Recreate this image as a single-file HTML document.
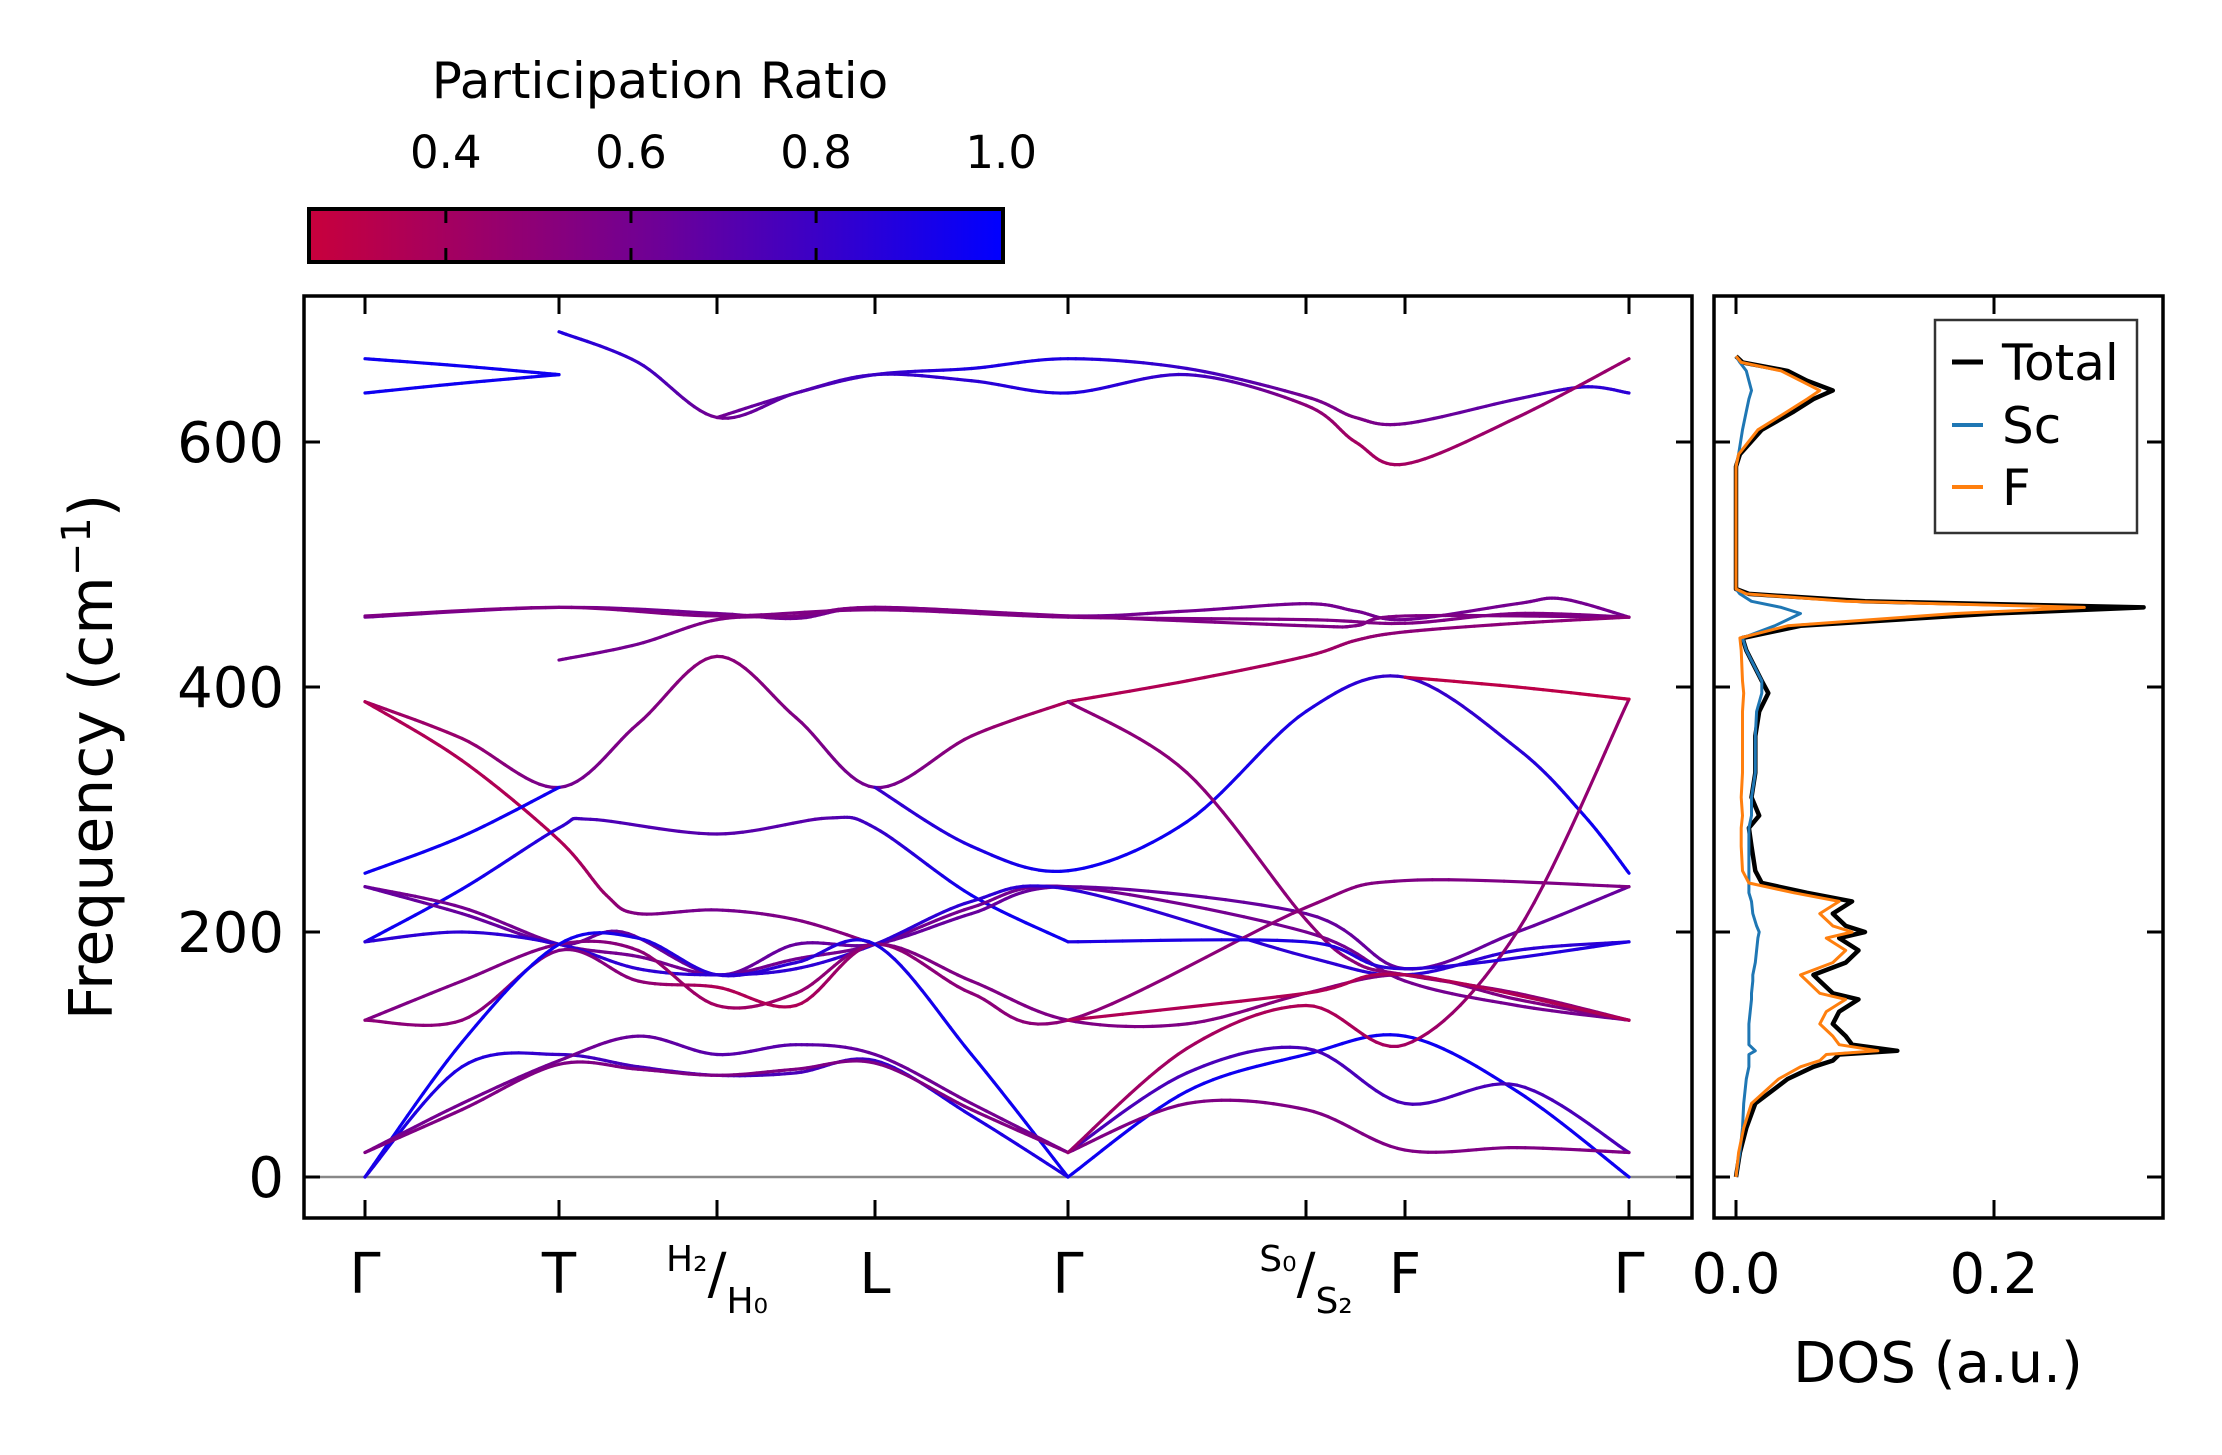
<!DOCTYPE html>
<html><head><meta charset="utf-8"><style>
html,body{margin:0;padding:0;background:#fff;}
svg{display:block;font-family:"DejaVu Sans","Liberation Sans",sans-serif;}
</style></head><body>
<svg id="fig" width="2222" height="1455" viewBox="0 0 2222 1455" xmlns="http://www.w3.org/2000/svg">
<defs>
<linearGradient id="cmap" x1="0" x2="1" y1="0" y2="0">
<stop offset="0" stop-color="#c8003c"/><stop offset="0.5" stop-color="#6e0096"/><stop offset="1" stop-color="#0000ff"/>
</linearGradient>
<clipPath id="mainclip"><rect x="304" y="296" width="1388" height="922"/></clipPath>
<clipPath id="dosclip"><rect x="1714" y="296" width="449" height="922"/></clipPath>
</defs>
<g id="colorbar">
<text x="660" y="98" font-size="50" text-anchor="middle">Participation Ratio</text>
<rect x="309" y="209" width="694" height="53" fill="url(#cmap)" stroke="#000" stroke-width="4"/>
</g>
<g id="main">
<line x1="304" x2="1692" y1="1177" y2="1177" stroke="#888" stroke-width="2.5"/>
<g id="bands" clip-path="url(#mainclip)"></g>
<rect x="304" y="296" width="1388" height="922" fill="none" stroke="#000" stroke-width="3.5"/>
<g id="mainticks"></g>
<text transform="translate(112,757) rotate(-90)" font-size="60" text-anchor="middle">Frequency (cm<tspan font-size="40" dy="-22">−1</tspan><tspan dy="22">)</tspan></text>
</g>
<g id="dos">
<g id="doslines" clip-path="url(#dosclip)"></g>
<rect x="1714" y="296" width="449" height="922" fill="none" stroke="#000" stroke-width="3.5"/>
<g id="dosticks"></g>
<text x="1938" y="1382" font-size="56" text-anchor="middle">DOS (a.u.)</text>
<g>
<rect x="1935" y="320" width="202" height="213" fill="#fff" stroke="#333" stroke-width="2.5"/>
<line x1="1952" x2="1983" y1="362" y2="362" stroke="#000" stroke-width="5"/>
<text x="2002" y="380" font-size="50">Total</text>
<line x1="1952" x2="1983" y1="425" y2="425" stroke="#1f77b4" stroke-width="4"/>
<text x="2002" y="443" font-size="50">Sc</text>
<line x1="1952" x2="1983" y1="487" y2="487" stroke="#ff7f0e" stroke-width="4"/>
<text x="2002" y="505" font-size="50">F</text>
</g>
</g>
</svg>
<script>
// ---- data ----
const kTickPos = [365, 559, 717, 875, 1068, 1306, 1405, 1629];
const kTickLabels = ["Γ", "T", "H", "L", "Γ", "S", "F", "Γ"];
const freqTicks = [0, 200, 400, 600];
const cbarTicks = [0.4, 0.6, 0.8, 1.0];
const dosTicks = [0.0, 0.2];

const bandK = [
 [0,0.5,1],
 [0,0.5,1],
 [1,1.5,2,2.5,3,3.5,4,4.5,5,5.5,6,6.5,6.8,7],
 [2,2.5,3,3.5,4,4.5,5,5.5,6,6.5,7],
 [0,1,2,2.5,3,4,4.5,5,5.5,6,6.5,6.7,7],
 [0,1,2,3,4,5,6,6.5,7],
 [1,1.5,2,2.5,3,4,5,5.5,6,7],
 [0,0.5,1,1.5,2,2.5,3,3.5,4],
 [4,4.5,5,5.5,6,6.5,7],
 [0,0.5,1,1.3,1.5,2,2.5,3],
 [0,0.5,1],
 [0,0.5,1,1.2,2,2.7,3,3.5,4],
 [3,3.5,4,4.5,5,6,6.5,6.8,7],
 [0,0.5,1,1.5,2,2.5,3,3.5,4,5,6,6.5,7],
 [0,0.5,1,1.4,2,2.5,3,3.5,4,5,6,6.5,7],
 [0,0.5,1,1.5,2,2.5,3,3.5,4,5,6,6.5,7],
 [0,0.5,1,1.5,2,2.5,3,3.5,4,4.5,5,6,6.5,7],
 [0,0.5,1,1.5,2,2.5,3,3.5,4,5,6,7],
 [0,0.5,1,1.5,2,2.5,3,3.5,4],
 [0,0.5,1,1.5,2,2.5,3,3.5,4],
 [0,0.5,1,1.5,2,2.5,3,3.5,4],
 [0,0.5,1,1.5,2,2.5,3,3.5,4],
 [4,4.5,5,6,6.5,7],
 [4,4.5,5,6,6.5,7],
 [4,4.5,5,6,6.5,7],
 [4,4.5,5,6,6.5,7],
 [4,4.5,5,5.5,6,6.5,7],
 [6,6.5,7],
 [4,5,6,7],
 [4,5,6,7]
];
const bandF = [
 [668,662,655],
 [640,648,655],
 [690,665,620,640,655,660,668,660,637,620,615,635,645,640],
 [620,640,655,650,640,655,630,600,582,620,668],
 [457,465,460,456,465,458,462,468,462,455,468,472,457],
 [458,465,458,463,457,455,452,460,457],
 [422,435,455,458,465,458,450,450,458,457],
 [388,358,318,370,425,375,318,360,388],
 [388,405,425,438,445,452,457],
 [388,340,275,230,215,218,210,190],
 [248,278,318],
 [192,235,285,292,280,293,285,230,192],
 [318,270,250,290,380,408,350,295,248],
 [237,220,190,180,165,178,190,220,237,200,160,140,128],
 [237,215,190,200,165,190,190,215,237,215,170,200,237],
 [192,200,190,170,165,170,190,225,235,180,165,185,192],
 [128,160,190,185,140,150,190,160,128,125,150,165,145,128],
 [128,128,185,160,155,140,190,150,128,220,242,237],
 [0,110,190,195,165,175,190,100,0],
 [0,90,100,90,83,85,95,50,0],
 [20,60,95,115,100,108,100,60,20],
 [20,55,92,88,83,88,93,55,20],
 [0,70,100,115,70,0],
 [20,85,105,60,75,20],
 [20,60,55,22,24,20],
 [20,105,140,108,200,390],
 [388,330,210,175,165,150,128],
 [408,400,390],
 [128,150,165,128],
 [192,192,170,192]
];
const bandP = [
 [0.95,0.95,0.95],[0.95,0.95,0.95],
 [0.9,0.8,0.6,0.7,0.8,0.9,0.9,0.8,0.6,0.55,0.6,0.7,0.85,0.85],
 [0.6,0.7,0.8,0.85,0.9,0.8,0.5,0.4,0.4,0.45,0.45],
 [0.6,0.6,0.6,0.6,0.6,0.6,0.6,0.6,0.6,0.6,0.6,0.6,0.6],
 [0.55,0.55,0.55,0.55,0.55,0.55,0.55,0.55,0.55],
 [0.6,0.6,0.55,0.55,0.55,0.55,0.55,0.55,0.55,0.55],
 [0.4,0.45,0.6,0.55,0.5,0.55,0.6,0.5,0.35],
 [0.35,0.35,0.4,0.45,0.5,0.5,0.5],
 [0.35,0.35,0.35,0.45,0.55,0.6,0.55,0.5],
 [0.95,0.95,0.95],
 [0.95,0.95,0.85,0.75,0.7,0.7,0.8,0.95,0.95],
 [0.8,0.9,0.95,0.95,0.9,0.8,0.85,0.95,0.95],
 [0.6,0.6,0.6,0.6,0.6,0.6,0.6,0.6,0.6,0.6,0.6,0.6,0.6],
 [0.65,0.65,0.65,0.65,0.65,0.65,0.65,0.65,0.65,0.65,0.65,0.65,0.65],
 [0.85,0.85,0.85,0.85,0.85,0.85,0.85,0.85,0.85,0.85,0.85,0.85,0.85],
 [0.55,0.55,0.55,0.5,0.4,0.45,0.55,0.55,0.55,0.55,0.5,0.55,0.55,0.55],
 [0.5,0.5,0.55,0.5,0.35,0.35,0.5,0.5,0.5,0.5,0.55,0.55],
 [0.95,0.95,0.95,0.9,0.85,0.85,0.9,0.95,0.95],
 [0.9,0.9,0.8,0.75,0.75,0.75,0.8,0.9,0.9],
 [0.6,0.6,0.6,0.65,0.7,0.7,0.65,0.6,0.6],
 [0.55,0.55,0.55,0.55,0.55,0.55,0.55,0.55,0.55],
 [0.95,0.95,0.95,0.95,0.95,0.95],
 [0.75,0.75,0.75,0.75,0.75,0.75],
 [0.55,0.55,0.55,0.55,0.55,0.55],
 [0.45,0.4,0.35,0.4,0.5,0.45],
 [0.5,0.5,0.5,0.5,0.5,0.5,0.5],
 [0.3,0.3,0.3],
 [0.35,0.35,0.35,0.35],
 [0.9,0.9,0.85,0.9]
];

const dosFreq  = [0,20,40,60,80,90,95,100,103,108,115,125,135,145,150,160,165,175,185,195,200,205,215,225,232,240,250,270,285,295,310,330,360,380,395,405,430,440,450,460,465,470,476,480,580,590,610,625,635,642,650,658,665,670];
const dosTotal = [0,0.003,0.008,0.015,0.04,0.06,0.075,0.08,0.125,0.09,0.085,0.075,0.08,0.095,0.075,0.065,0.06,0.085,0.095,0.08,0.1,0.085,0.075,0.09,0.055,0.02,0.015,0.012,0.01,0.018,0.012,0.015,0.015,0.018,0.025,0.02,0.008,0.005,0.05,0.2,0.316,0.1,0.01,0,0,0.003,0.02,0.045,0.06,0.075,0.055,0.04,0.005,0];
const dosF     = [0,0.002,0.006,0.012,0.033,0.05,0.065,0.07,0.11,0.08,0.075,0.065,0.07,0.085,0.065,0.055,0.05,0.075,0.085,0.07,0.09,0.075,0.065,0.08,0.045,0.01,0.005,0.004,0.004,0.005,0.004,0.005,0.005,0.005,0.006,0.005,0.004,0.003,0.04,0.17,0.27,0.085,0.008,0,0,0.002,0.017,0.04,0.055,0.065,0.05,0.035,0.004,0];
const dosSc    = [0,0.003,0.005,0.006,0.008,0.01,0.01,0.01,0.015,0.01,0.01,0.01,0.011,0.012,0.012,0.013,0.013,0.015,0.016,0.017,0.018,0.016,0.013,0.012,0.01,0.01,0.01,0.01,0.01,0.012,0.012,0.015,0.015,0.016,0.02,0.02,0.008,0.005,0.03,0.05,0.035,0.012,0.003,0,0,0.002,0.005,0.008,0.01,0.012,0.01,0.008,0.003,0];

// ---- axes ----
function yF(f){ return 1177 - f*1.225; }
function xK(k){ const i=Math.min(Math.floor(k),6); const t=k-i; return kTickPos[i]+(kTickPos[i+1]-kTickPos[i])*t; }
function xDos(d){ return 1736 + d*1290; }
function xCb(p){ return 307 + (p-0.25)/(1.003-0.25)*697; }
function pColor(p){
  const t=Math.max(0,Math.min(1,(p-0.25)/0.75));
  let r,g,b;
  if(t<0.5){const u=t/0.5; r=200+(110-200)*u; g=0; b=60+(150-60)*u;}
  else {const u=(t-0.5)/0.5; r=110*(1-u); g=0; b=150+(255-150)*u;}
  return `rgb(${r|0},${g|0},${b|0})`;
}
const NS="http://www.w3.org/2000/svg";
function mk(tag, attrs, parent){ const e=document.createElementNS(NS,tag); for(const a in attrs) e.setAttribute(a,attrs[a]); parent.appendChild(e); return e; }

// ---- bands ----
const bandsG=document.getElementById('bands');
bandK.forEach((ks,bi)=>{
  const fs=bandF[bi], ps=bandP[bi];
  const g=mk('g',{},bandsG);
  
  
  const pts=ks.map((k,i)=>[xK(k),yF(fs[i]),ps[i]]);
  for(let i=0;i<pts.length-1;i++){
    const p0=pts[Math.max(i-1,0)],p1=pts[i],p2=pts[i+1],p3=pts[Math.min(i+2,pts.length-1)];
    const steps=14; let prev=null;
    for(let s=0;s<=steps;s++){
      const t=s/steps,t2=t*t,t3=t2*t;
      const x=0.5*((2*p1[0])+(-p0[0]+p2[0])*t+(2*p0[0]-5*p1[0]+4*p2[0]-p3[0])*t2+(-p0[0]+3*p1[0]-3*p2[0]+p3[0])*t3);
      const y=0.5*((2*p1[1])+(-p0[1]+p2[1])*t+(2*p0[1]-5*p1[1]+4*p2[1]-p3[1])*t2+(-p0[1]+3*p1[1]-3*p2[1]+p3[1])*t3);
      if(prev){
        const pp=p1[2]+(p2[2]-p1[2])*(t-0.5/steps);
        mk('line',{x1:prev[0],y1:prev[1],x2:x,y2:y,stroke:pColor(pp),'stroke-width':3.2,'stroke-linecap':'round'},g);
      }
      prev=[x,y];
    }
  }
});

// ---- main ticks ----
const mt=document.getElementById('mainticks');
freqTicks.forEach(f=>{
  const y=yF(f);
  mk('line',{x1:304,x2:320,y1:y,y2:y,stroke:'#000','stroke-width':3},mt);
  mk('line',{x1:1676,x2:1692,y1:y,y2:y,stroke:'#000','stroke-width':3},mt);
  const t=mk('text',{x:284,y:y+20,'font-size':56,'text-anchor':'end'},mt);
  
  
  t.textContent=f;
});
kTickPos.forEach((x,i)=>{
  mk('line',{x1:x,x2:x,y1:1218,y2:1200,stroke:'#000','stroke-width':3},mt);
  mk('line',{x1:x,x2:x,y1:296,y2:314,stroke:'#000','stroke-width':3},mt);
  const lab=kTickLabels[i];
  const t=mk('text',{x:x,y:1293,'font-size':56,'text-anchor':'middle'},mt);
  
  
  if(lab==='H'){
    t.innerHTML=`<tspan font-size="36" dy="-22">H₂</tspan><tspan font-size="56" dy="22">/</tspan><tspan font-size="36" dy="20">H₀</tspan>`;
  } else if(lab==='S'){
    t.innerHTML=`<tspan font-size="36" dy="-22">S₀</tspan><tspan font-size="56" dy="22">/</tspan><tspan font-size="36" dy="20">S₂</tspan>`;
  } else {
    t.textContent=lab;
  }
});

// ---- colorbar ticks ----
const cb=document.getElementById('colorbar');
cbarTicks.forEach(p=>{
  const x=xCb(p);
  if(p<1){
    mk('line',{x1:x,x2:x,y1:209,y2:223,stroke:'#000','stroke-width':3},cb);
    mk('line',{x1:x,x2:x,y1:248,y2:262,stroke:'#000','stroke-width':3},cb);
  }
  const t=mk('text',{x:x,y:168,'font-size':45,'text-anchor':'middle'},cb);
  
  
  t.textContent=p.toFixed(1);
});

// ---- DOS ----
const dl=document.getElementById('doslines');
function dosPath(arr,color,w,name){
  const d=dosFreq.map((f,i)=>(i?'L':'M')+xDos(arr[i]).toFixed(1)+','+yF(f).toFixed(1)).join(' ');
  const p=mk('path',{d:d,fill:'none',stroke:color,'stroke-width':w,'stroke-linejoin':'round'},dl);
  
  
}
dosPath(dosTotal,'#000',4.5,'dos-total-line');
dosPath(dosSc,'#1f77b4',3,'dos-sc-line');
dosPath(dosF,'#ff7f0e',3,'dos-f-line');
const dt=document.getElementById('dosticks');
freqTicks.forEach(f=>{
  const y=yF(f);
  mk('line',{x1:1714,x2:1730,y1:y,y2:y,stroke:'#000','stroke-width':3},dt);
  mk('line',{x1:2147,x2:2163,y1:y,y2:y,stroke:'#000','stroke-width':3},dt);
});
dosTicks.forEach(d=>{
  const x=xDos(d);
  mk('line',{x1:x,x2:x,y1:1218,y2:1200,stroke:'#000','stroke-width':3},dt);
  mk('line',{x1:x,x2:x,y1:296,y2:314,stroke:'#000','stroke-width':3},dt);
  const t=mk('text',{x:x,y:1293,'font-size':56,'text-anchor':'middle'},dt);
  
  
  t.textContent=d.toFixed(1);
});
</script>
</body></html>
